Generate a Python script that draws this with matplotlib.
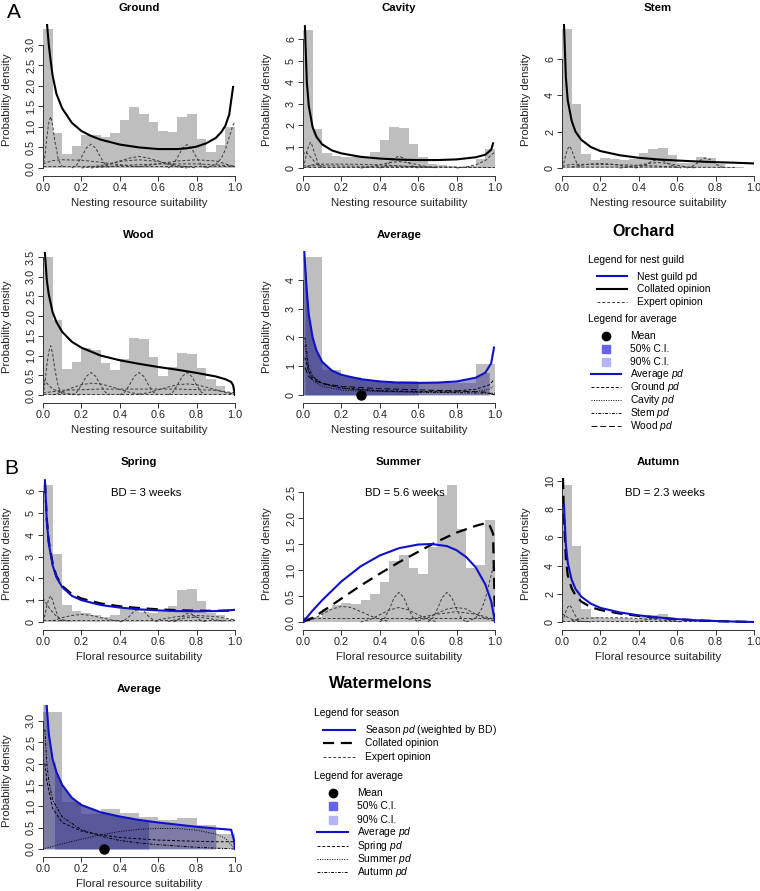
import numpy as np
import matplotlib
matplotlib.use('Agg')
import matplotlib.pyplot as plt
from matplotlib.lines import Line2D

plt.rcParams['font.family'] = ['Liberation Sans', 'DejaVu Sans']
plt.rcParams['mathtext.fontset'] = 'custom'
plt.rcParams['mathtext.rm'] = 'Liberation Sans'
plt.rcParams['mathtext.it'] = 'Liberation Sans:italic'

# ---------------- data ----------------
edges20 = np.linspace(0, 1, 21)
edges10 = np.linspace(0, 1, 11)

# Panel A: Orchard
ground_hist = [3.37, 0.85, 0.35, 0.53, 0.79, 0.79, 0.75, 0.85, 1.16, 1.48,
               1.32, 1.12, 0.91, 0.88, 1.23, 1.31, 0.71, 0.38, 0.55, 0.99]
ground_cx = [0.015, 0.02, 0.03, 0.04, 0.05, 0.07, 0.1, 0.15, 0.2, 0.25, 0.3, 0.4, 0.5,
             0.6, 0.7, 0.75, 0.8, 0.85, 0.9, 0.93, 0.95, 0.97, 0.99]
ground_cy = [4.2, 3.55, 3.0, 2.6, 2.25, 1.8, 1.45, 1.1, 0.9, 0.78, 0.69, 0.57, 0.5,
             0.46, 0.46, 0.48, 0.52, 0.6, 0.73, 0.88, 1.03, 1.3, 1.97]
ground_experts = [
    ([0, 0.01, 0.02, 0.03, 0.04, 0.05, 0.06, 0.08, 0.1], [0, 0.3, 0.75, 1.1, 1.25, 1.05, 0.7, 0.2, 0.03]),
    ([0.15, 0.175, 0.2, 0.225, 0.25, 0.275, 0.3, 0.325, 0.35], [0, 0.07, 0.26, 0.48, 0.58, 0.48, 0.26, 0.07, 0]),
    ([0.65, 0.675, 0.7, 0.725, 0.75, 0.775, 0.8, 0.825, 0.85], [0, 0.07, 0.25, 0.47, 0.57, 0.47, 0.25, 0.07, 0]),
    ([0.25, 0.3, 0.35, 0.4, 0.45, 0.5, 0.55, 0.6, 0.65, 0.7, 0.75], [0, 0.03, 0.09, 0.17, 0.24, 0.28, 0.24, 0.17, 0.09, 0.03, 0]),
    ([0.2, 0.3, 0.4, 0.5, 0.6, 0.7, 0.8], [0, 0.06, 0.16, 0.2, 0.16, 0.06, 0]),
    ([0.85, 0.9, 0.93, 0.95, 0.97, 0.99, 1.0], [0, 0.08, 0.25, 0.45, 0.75, 1.05, 1.12]),
    ([0, 0.05, 0.1, 0.2, 0.3, 0.4, 0.5], [0.1, 0.18, 0.2, 0.19, 0.14, 0.08, 0.03]),
    ([0.5, 0.6, 0.7, 0.8, 0.9, 0.95, 1.0], [0.03, 0.1, 0.17, 0.2, 0.17, 0.1, 0.03]),
    ([0, 0.5, 1.0], [0.04, 0.04, 0.04]),
    ([0.3, 0.4, 0.6, 0.8, 0.95, 1.0], [0.02, 0.06, 0.1, 0.1, 0.06, 0.04]),
]

cavity_hist = [6.4, 1.8, 0.7, 0.55, 0.5, 0.5, 0.5, 0.75, 1.28, 1.92,
               1.85, 1.12, 0.52, 0.2, 0.15, 0.1, 0.05, 0.1, 0.4, 0.88]
cavity_cx = [0.01, 0.02, 0.03, 0.05, 0.07, 0.1, 0.15, 0.2, 0.3, 0.4, 0.5, 0.6, 0.7, 0.8, 0.9, 0.95, 0.98, 0.99]
cavity_cy = [6.6, 4.0, 2.9, 1.9, 1.45, 1.1, 0.82, 0.68, 0.52, 0.44, 0.39, 0.37, 0.37, 0.4, 0.5, 0.62, 0.85, 1.15]
cavity_experts = [
    ([0, 0.01, 0.02, 0.03, 0.04, 0.05, 0.06, 0.08, 0.1], [0, 0.3, 0.75, 1.05, 1.2, 1.0, 0.7, 0.2, 0.03]),
    ([0, 0.01, 0.02, 0.04, 0.06, 0.08, 0.1], [0.6, 0.75, 0.7, 0.5, 0.3, 0.15, 0.05]),
    ([0.4, 0.425, 0.45, 0.475, 0.5, 0.525, 0.55, 0.575, 0.6], [0, 0.07, 0.24, 0.46, 0.55, 0.46, 0.24, 0.07, 0]),
    ([0.3, 0.35, 0.4, 0.45, 0.5, 0.55, 0.6, 0.65, 0.7], [0, 0.05, 0.15, 0.25, 0.3, 0.25, 0.15, 0.05, 0]),
    ([0.02, 0.05, 0.1, 0.2, 0.3, 0.4, 0.5, 0.6, 0.7], [0.05, 0.15, 0.18, 0.18, 0.17, 0.15, 0.1, 0.05, 0.02]),
    ([0.8, 0.85, 0.9, 0.95, 0.98, 1.0], [0, 0.05, 0.15, 0.35, 0.6, 0.75]),
    ([0, 0.5, 1.0], [0.05, 0.05, 0.05]),
    ([0, 0.1, 0.3, 0.5, 0.7, 0.9, 1.0], [0.1, 0.1, 0.08, 0.08, 0.05, 0.03, 0.02]),
]

stem_hist = [7.6, 3.5, 0.75, 0.45, 0.55, 0.5, 0.45, 0.5, 0.8, 1.05,
             1.1, 0.7, 0.3, 0.3, 0.6, 0.55, 0.2, 0.05, 0.05, 0.02]
stem_cx = [0.01, 0.02, 0.03, 0.05, 0.07, 0.1, 0.15, 0.2, 0.3, 0.4, 0.5, 0.6, 0.7, 0.8, 0.9, 1.0]
stem_cy = [8.0, 5.0, 3.7, 2.6, 2.0, 1.55, 1.15, 0.93, 0.7, 0.56, 0.47, 0.41, 0.36, 0.32, 0.29, 0.25]
stem_experts = [
    ([0, 0.01, 0.02, 0.03, 0.04, 0.05, 0.06, 0.08, 0.1], [0, 0.3, 0.75, 1.05, 1.2, 1.0, 0.7, 0.2, 0.03]),
    ([0.38, 0.41, 0.44, 0.47, 0.5, 0.53, 0.56, 0.59, 0.62], [0, 0.06, 0.2, 0.38, 0.45, 0.38, 0.2, 0.06, 0]),
    ([0.65, 0.675, 0.7, 0.725, 0.75, 0.775, 0.8, 0.825, 0.85], [0, 0.07, 0.24, 0.45, 0.55, 0.45, 0.24, 0.07, 0]),
    ([0.05, 0.1, 0.15, 0.2, 0.25, 0.3, 0.35, 0.4], [0.05, 0.15, 0.22, 0.25, 0.22, 0.15, 0.08, 0.02]),
    ([0.3, 0.35, 0.4, 0.45, 0.5, 0.55, 0.6, 0.65, 0.7], [0, 0.05, 0.15, 0.25, 0.3, 0.25, 0.15, 0.05, 0]),
    ([0, 0.5, 0.9], [0.05, 0.05, 0.03]),
    ([0, 0.05, 0.2, 0.4, 0.6], [0.1, 0.2, 0.2, 0.15, 0.05]),
]

wood_hist = [3.5, 1.9, 0.65, 0.83, 1.2, 1.13, 0.8, 0.63, 0.9, 1.44,
             1.42, 0.96, 0.49, 0.72, 1.07, 1.04, 0.68, 0.41, 0.23, 0.08]
wood_cx = [0.01, 0.02, 0.03, 0.05, 0.07, 0.1, 0.15, 0.2, 0.3, 0.4, 0.5, 0.6, 0.7, 0.8, 0.9, 0.95, 0.98, 0.99, 1.0]
wood_cy = [3.6, 2.9, 2.55, 2.1, 1.85, 1.6, 1.35, 1.2, 1.0, 0.88, 0.79, 0.71, 0.64, 0.56, 0.47, 0.4, 0.33, 0.25, 0.0]
wood_experts = [
    ([0, 0.01, 0.02, 0.03, 0.04, 0.05, 0.06, 0.08, 0.1], [0, 0.3, 0.75, 1.1, 1.25, 1.05, 0.7, 0.2, 0.03]),
    ([0.15, 0.175, 0.2, 0.225, 0.25, 0.275, 0.3, 0.325, 0.35], [0, 0.07, 0.25, 0.47, 0.57, 0.47, 0.25, 0.07, 0]),
    ([0.4, 0.425, 0.45, 0.475, 0.5, 0.525, 0.55, 0.575, 0.6], [0, 0.07, 0.25, 0.47, 0.57, 0.47, 0.25, 0.07, 0]),
    ([0.65, 0.675, 0.7, 0.725, 0.75, 0.775, 0.8, 0.825, 0.85], [0, 0.07, 0.25, 0.47, 0.57, 0.47, 0.25, 0.07, 0]),
    ([0.05, 0.1, 0.15, 0.2, 0.25, 0.3, 0.35, 0.4, 0.45, 0.5], [0, 0.08, 0.18, 0.26, 0.3, 0.28, 0.22, 0.14, 0.07, 0.02]),
    ([0.5, 0.55, 0.6, 0.65, 0.7, 0.75, 0.8, 0.85, 0.9, 0.95, 1.0], [0.02, 0.06, 0.13, 0.2, 0.26, 0.28, 0.26, 0.2, 0.13, 0.06, 0.02]),
    ([0, 0.02, 0.05, 0.1, 0.15, 0.2], [0.4, 0.3, 0.15, 0.06, 0.02, 0]),
    ([0, 0.1, 0.3, 0.5, 0.7, 0.9, 1.0], [0.05, 0.12, 0.15, 0.15, 0.15, 0.12, 0.05]),
    ([0, 0.5, 1.0], [0.03, 0.03, 0.03]),
]

orch_hist = [4.79, 0.87, 0.64, 0.52, 0.43, 0.49, 0.45, 0.4, 0.4, 1.08]
orch_cx = [0.005, 0.01, 0.02, 0.03, 0.05, 0.07, 0.1, 0.15, 0.2, 0.3, 0.4, 0.5, 0.6, 0.7, 0.8, 0.9, 0.95, 0.98, 0.995]
orch_cy = [5.2, 4.6, 3.6, 2.8, 2.0, 1.55, 1.15, 0.85, 0.7, 0.55, 0.47, 0.43, 0.42, 0.43, 0.47, 0.6, 0.78, 1.1, 1.65]
orch_ci90 = [0.0, 0.97]
orch_ci50 = [0.01, 0.6]
orch_mean = 0.3
orch_ground_x = [0.01, 0.03, 0.05, 0.1, 0.2, 0.4, 0.6, 0.8, 0.9, 0.97, 0.99]
orch_ground_y = [1.3, 0.8, 0.6, 0.4, 0.25, 0.15, 0.12, 0.14, 0.2, 0.35, 0.5]
orch_cavity_x = [0.01, 0.03, 0.05, 0.1, 0.2, 0.4, 0.6, 0.8, 0.9, 0.97, 0.99]
orch_cavity_y = [1.7, 0.8, 0.5, 0.3, 0.17, 0.12, 0.1, 0.1, 0.12, 0.2, 0.3]
orch_stem_x = [0.01, 0.03, 0.05, 0.1, 0.2, 0.4, 0.6, 0.8, 1.0]
orch_stem_y = [2.0, 0.95, 0.65, 0.4, 0.23, 0.14, 0.1, 0.08, 0.06]
orch_wood_x = [0.01, 0.03, 0.05, 0.1, 0.2, 0.4, 0.6, 0.8, 0.95, 1.0]
orch_wood_y = [0.95, 0.65, 0.53, 0.4, 0.3, 0.22, 0.18, 0.14, 0.1, 0.0]

# Panel B: Watermelons
spring_hist = [6.3, 3.1, 0.76, 0.5, 0.42, 0.32, 0.25, 0.3, 0.6, 0.6,
               0.45, 0.4, 0.45, 0.73, 1.47, 1.5, 0.97, 0.4, 0.3, 0.15]
spring_bx = [0.01, 0.02, 0.03, 0.05, 0.07, 0.1, 0.15, 0.2, 0.3, 0.4, 0.5, 0.6, 0.7, 0.8, 0.9, 0.95, 1.0]
spring_by = [6.5, 4.6, 3.6, 2.6, 2.05, 1.6, 1.2, 1.0, 0.78, 0.66, 0.58, 0.53, 0.5, 0.49, 0.5, 0.52, 0.56]
spring_kx = [0.01, 0.02, 0.03, 0.05, 0.07, 0.1, 0.15, 0.2, 0.3, 0.4, 0.5, 0.6, 0.7, 0.8, 0.9, 1.0]
spring_ky = [6.4, 4.7, 3.7, 2.7, 2.1, 1.65, 1.28, 1.08, 0.85, 0.72, 0.64, 0.58, 0.54, 0.52, 0.51, 0.53]
spring_experts = [
    ([0, 0.01, 0.02, 0.03, 0.04, 0.05, 0.06, 0.08, 0.1], [0, 0.3, 0.75, 1.05, 1.2, 1.0, 0.7, 0.2, 0.03]),
    ([0, 0.01, 0.02, 0.04, 0.06, 0.08, 0.1, 0.15], [1.1, 0.95, 0.8, 0.55, 0.35, 0.2, 0.1, 0.02]),
    ([0.4, 0.425, 0.45, 0.475, 0.5, 0.525, 0.55, 0.575, 0.6], [0, 0.08, 0.26, 0.5, 0.6, 0.5, 0.26, 0.08, 0]),
    ([0.68, 0.7, 0.72, 0.74, 0.76, 0.78, 0.8, 0.82, 0.85], [0, 0.08, 0.22, 0.36, 0.4, 0.34, 0.2, 0.08, 0]),
    ([0.05, 0.1, 0.15, 0.2, 0.25, 0.3, 0.35, 0.4], [0.05, 0.2, 0.3, 0.35, 0.3, 0.2, 0.1, 0.03]),
    ([0, 0.5, 1.0], [0.08, 0.08, 0.08]),
    ([0.6, 0.7, 0.8, 0.9, 1.0], [0.1, 0.25, 0.3, 0.25, 0.1]),
    ([0.65, 0.7, 0.75, 0.8, 0.85, 0.9, 0.95], [0.02, 0.12, 0.2, 0.22, 0.18, 0.1, 0.03]),
]

summer_hist = [0.09, 0.09, 0.25, 0.33, 0.37, 0.34, 0.42, 0.53, 0.77, 1.17,
               1.28, 1.03, 0.93, 1.45, 2.44, 2.63, 1.79, 1.03, 1.09, 1.97]
summer_bx = [0.0, 0.05, 0.1, 0.2, 0.3, 0.4, 0.5, 0.6, 0.67, 0.75, 0.8, 0.85, 0.9, 0.95, 0.98, 1.0]
summer_by = [0.0, 0.22, 0.42, 0.78, 1.07, 1.28, 1.42, 1.49, 1.5, 1.46, 1.38, 1.25, 1.05, 0.72, 0.4, 0.0]
summer_kx = [0.0, 0.05, 0.1, 0.2, 0.3, 0.4, 0.5, 0.6, 0.7, 0.8, 0.9, 0.95, 0.97, 0.99, 1.0]
summer_ky = [0.0, 0.08, 0.2, 0.45, 0.7, 0.93, 1.15, 1.35, 1.55, 1.72, 1.85, 1.9, 1.88, 1.7, 0.0]
summer_experts = [
    ([0, 0.05, 0.1, 0.15, 0.2, 0.25, 0.3, 0.35, 0.4, 0.45], [0, 0.05, 0.15, 0.25, 0.3, 0.28, 0.2, 0.12, 0.05, 0.01]),
    ([0.4, 0.425, 0.45, 0.475, 0.5, 0.525, 0.55, 0.575, 0.6], [0, 0.07, 0.25, 0.47, 0.57, 0.47, 0.25, 0.07, 0]),
    ([0.65, 0.675, 0.7, 0.725, 0.75, 0.775, 0.8, 0.825, 0.85], [0, 0.07, 0.25, 0.47, 0.57, 0.47, 0.25, 0.07, 0]),
    ([0.3, 0.35, 0.4, 0.45, 0.5, 0.55, 0.6, 0.65, 0.7], [0, 0.05, 0.14, 0.23, 0.28, 0.23, 0.14, 0.05, 0]),
    ([0.6, 0.65, 0.7, 0.75, 0.8, 0.85, 0.9, 0.95, 1.0], [0.02, 0.08, 0.17, 0.25, 0.28, 0.25, 0.15, 0.07, 0.02]),
    ([0.85, 0.9, 0.93, 0.95, 0.97, 0.99, 1.0], [0, 0.08, 0.25, 0.45, 0.75, 1.05, 1.12]),
    ([0, 0.5, 1.0], [0.08, 0.08, 0.08]),
    ([0.55, 0.7, 0.8, 0.9, 1.0], [0.05, 0.15, 0.2, 0.15, 0.05]),
]

autumn_hist = [9.7, 5.37, 0.95, 0.35, 0.3, 0.3, 0.25, 0.2, 0.35, 0.5,
               0.55, 0.25, 0.05, 0.05, 0.05, 0.05, 0.05, 0.04, 0.03, 0.02]
autumn_bx = [0.01, 0.02, 0.03, 0.05, 0.07, 0.1, 0.15, 0.2, 0.3, 0.4, 0.5, 0.6, 0.7, 0.8, 0.9, 1.0]
autumn_by = [8.3, 5.5, 4.2, 3.0, 2.35, 1.8, 1.3, 1.0, 0.68, 0.47, 0.32, 0.2, 0.12, 0.07, 0.03, 0.0]
autumn_kx = [0.005, 0.01, 0.02, 0.03, 0.05, 0.07, 0.1, 0.15, 0.2, 0.3, 0.4, 0.5, 0.6, 0.7, 0.8, 0.9, 1.0]
autumn_ky = [10.2, 7.5, 4.5, 3.3, 2.4, 1.9, 1.45, 1.05, 0.85, 0.6, 0.43, 0.3, 0.2, 0.12, 0.06, 0.03, 0.0]
autumn_experts = [
    ([0, 0.01, 0.02, 0.03, 0.04, 0.05, 0.06, 0.08, 0.1], [0, 0.3, 0.75, 1.05, 1.2, 1.0, 0.7, 0.2, 0.03]),
    ([0, 0.02, 0.05, 0.1, 0.15], [0.6, 0.4, 0.2, 0.05, 0]),
    ([0.05, 0.1, 0.2, 0.3, 0.4, 0.5, 0.6], [0.1, 0.25, 0.3, 0.3, 0.25, 0.15, 0.05]),
    ([0.38, 0.41, 0.44, 0.47, 0.5, 0.53, 0.56, 0.59, 0.62], [0, 0.05, 0.16, 0.3, 0.35, 0.3, 0.16, 0.05, 0]),
    ([0, 0.5, 1.0], [0.1, 0.1, 0.1]),
]

water_hist = [3.21, 1.1, 0.83, 0.94, 0.85, 0.76, 0.69, 0.72, 0.55, 0.35]
water_cx = [0.015, 0.02, 0.03, 0.05, 0.07, 0.1, 0.15, 0.2, 0.3, 0.4, 0.5, 0.6, 0.7, 0.8, 0.9, 0.98, 0.995, 1.0]
water_cy = [3.8, 3.3, 2.7, 2.1, 1.8, 1.5, 1.2, 1.03, 0.86, 0.76, 0.68, 0.62, 0.57, 0.52, 0.48, 0.45, 0.2, 0.0]
water_ci90 = [0.0, 0.9]
water_ci50 = [0.06, 0.55]
water_mean = 0.32
water_spring_x = [0.01, 0.02, 0.05, 0.1, 0.2, 0.3, 0.4, 0.5, 0.6, 0.8, 0.9, 1.0]
water_spring_y = [2.0, 1.6, 0.95, 0.62, 0.42, 0.33, 0.27, 0.24, 0.21, 0.18, 0.17, 0.17]
water_summer_x = [0.0, 0.1, 0.2, 0.3, 0.4, 0.5, 0.6, 0.7, 0.8, 0.9, 0.95, 1.0]
water_summer_y = [0.0, 0.12, 0.23, 0.33, 0.41, 0.46, 0.48, 0.48, 0.44, 0.35, 0.25, 0.0]
water_autumn_x = [0.01, 0.02, 0.03, 0.05, 0.1, 0.2, 0.3, 0.4, 0.5, 0.6, 0.8, 1.0]
water_autumn_y = [2.8, 2.0, 1.6, 1.15, 0.75, 0.45, 0.3, 0.2, 0.14, 0.1, 0.04, 0.0]

# ---------------- styling ----------------
W, H = 760, 891
GRAY = '#bebebe'
BLUE = '#1010c8'
EXP = dict(color='#3a3a3a', lw=0.7, ls=(0, (3, 2)))
CI_COL = '#2c2c8c'

fig = plt.figure(figsize=(W / 100, H / 100), dpi=100)


def fx(x):
    return x / W


def fy(y):
    return 1 - y / H


def make_axes(col_px, zero_px, ymax, yticks, ylabels, title, xlabel):
    bottom_px = zero_px + 8
    top_px = zero_px - 144
    ax = fig.add_axes([fx(col_px), fy(bottom_px), 192 / W, (bottom_px - top_px) / H])
    ax.set_xlim(0, 1)
    ax.set_ylim(-8 / 144 * ymax, ymax)
    for s in ['top', 'right']:
        ax.spines[s].set_visible(False)
    ax.spines['bottom'].set_bounds(0, 1)
    ax.spines['left'].set_bounds(yticks[0], yticks[-1])
    for s in ['bottom', 'left']:
        ax.spines[s].set_linewidth(0.7)
        ax.spines[s].set_color('#333333')
    ax.set_xticks([0, 0.2, 0.4, 0.6, 0.8, 1.0])
    ax.set_xticklabels(['0.0', '0.2', '0.4', '0.6', '0.8', '1.0'])
    ax.set_yticks(yticks)
    ax.set_yticklabels(ylabels, rotation=90, va='center')
    ax.tick_params(length=3.5, width=0.7, labelsize=7.8, pad=1.5, color='#333333', labelcolor='#222222')
    ax.text(0.5, 1 + 16 / 152, title, transform=ax.transAxes, ha='center', va='center',
            fontsize=8.2, fontweight='bold')
    ax.text(0.5, -27 / 152, xlabel, transform=ax.transAxes, ha='center', va='center', fontsize=8.2,
            color='#222222')
    ax.text(-36 / 192, 0.5, 'Probability density', transform=ax.transAxes, ha='center', va='center',
            fontsize=8.2, rotation=90, color='#222222')
    ax.patch.set_alpha(0)
    return ax


def hist(ax, edges, h):
    w = edges[1] - edges[0]
    ax.bar(edges[:-1], h, width=w, align='edge', color=GRAY, edgecolor='none', zorder=1)


def experts(ax, lst):
    for xs, ys in lst:
        ax.plot(xs, ys, zorder=3, **EXP)


NEST = 'Nesting resource suitability'
FLOR = 'Floral resource suitability'
COLS = [43, 303, 562]
ZERO = [168, 395, 622, 849]

# Row 1
ax = make_axes(COLS[0], ZERO[0], 3.5, [0, 0.5, 1, 1.5, 2, 2.5, 3], ['0.0', '0.5', '1.0', '1.5', '2.0', '2.5', '3.0'], 'Ground', NEST)
hist(ax, edges20, ground_hist); experts(ax, ground_experts)
ax.plot(ground_cx, ground_cy, color='black', lw=1.5, zorder=4)

ax = make_axes(COLS[1], ZERO[0], 6.7, [0, 1, 2, 3, 4, 5, 6], ['0', '1', '2', '3', '4', '5', '6'], 'Cavity', NEST)
hist(ax, edges20, cavity_hist); experts(ax, cavity_experts)
ax.plot(cavity_cx, cavity_cy, color='black', lw=1.5, zorder=4)

ax = make_axes(COLS[2], ZERO[0], 7.9, [0, 2, 4, 6], ['0', '2', '4', '6'], 'Stem', NEST)
hist(ax, edges20, stem_hist); experts(ax, stem_experts)
ax.plot(stem_cx, stem_cy, color='black', lw=1.5, zorder=4)

# Row 2
ax = make_axes(COLS[0], ZERO[1], 3.65, [0, 0.5, 1, 1.5, 2, 2.5, 3, 3.5], ['0.0', '0.5', '1.0', '1.5', '2.0', '2.5', '3.0', '3.5'], 'Wood', NEST)
hist(ax, edges20, wood_hist); experts(ax, wood_experts)
ax.plot(wood_cx, wood_cy, color='black', lw=1.5, zorder=4)

ax = make_axes(COLS[1], ZERO[1], 5.0, [0, 1, 2, 3, 4], ['0', '1', '2', '3', '4'], 'Average', NEST)
hist(ax, edges10, orch_hist)
ox = np.array(orch_cx); oy = np.array(orch_cy)
m90 = (ox >= orch_ci90[0]) & (ox <= orch_ci90[1])
ax.fill_between(np.r_[orch_ci90[0], ox[m90], orch_ci90[1]], 0, np.r_[oy[m90][0], oy[m90], oy[m90][-1]],
                color=CI_COL, alpha=0.45, lw=0, zorder=2)
m50 = (ox >= orch_ci50[0]) & (ox <= orch_ci50[1])
ax.fill_between(ox[m50], 0, oy[m50], color=CI_COL, alpha=0.45, lw=0, zorder=2)
ax.plot(orch_ground_x, orch_ground_y, color='black', lw=0.7, ls=(0, (3, 2)), zorder=3)
ax.plot(orch_cavity_x, orch_cavity_y, color='black', lw=0.7, ls=(0, (1, 1.5)), zorder=3)
ax.plot(orch_stem_x, orch_stem_y, color='black', lw=0.7, ls=(0, (3, 1.5, 1, 1.5)), zorder=3)
ax.plot(orch_wood_x, orch_wood_y, color='black', lw=0.7, ls=(0, (6, 3)), zorder=3)
ax.plot(orch_cx, orch_cy, color=BLUE, lw=1.5, zorder=4)
ax.plot([orch_mean], [0], 'o', color='black', ms=6.5, clip_on=False, zorder=5)

# Row 3
ax = make_axes(COLS[0], ZERO[2], 6.6, [0, 1, 2, 3, 4, 5, 6], ['0', '1', '2', '3', '4', '5', '6'], 'Spring', FLOR)
hist(ax, edges20, spring_hist); experts(ax, spring_experts)
ax.plot(spring_kx, spring_ky, color='black', lw=1.6, ls=(0, (5, 3)), zorder=4)
ax.plot(spring_bx, spring_by, color=BLUE, lw=1.5, zorder=4)
fig.text(fx(146), fy(493), 'BD = 3 weeks', ha='center', va='center', fontsize=8.2)

ax = make_axes(COLS[1], ZERO[2], 2.77, [0, 0.5, 1, 1.5, 2, 2.5], ['0.0', '0.5', '1.0', '1.5', '2.0', '2.5'], 'Summer', FLOR)
hist(ax, edges20, summer_hist); experts(ax, summer_experts)
ax.plot(summer_kx, summer_ky, color='black', lw=1.6, ls=(0, (5, 3)), zorder=4)
ax.plot(summer_bx, summer_by, color=BLUE, lw=1.5, zorder=4)
fig.text(fx(405), fy(493), 'BD = 5.6 weeks', ha='center', va='center', fontsize=8.2)

ax = make_axes(COLS[2], ZERO[2], 10.2, [0, 2, 4, 6, 8, 10], ['0', '2', '4', '6', '8', '10'], 'Autumn', FLOR)
hist(ax, edges20, autumn_hist); experts(ax, autumn_experts)
ax.plot(autumn_kx, autumn_ky, color='black', lw=1.6, ls=(0, (5, 3)), zorder=4)
ax.plot(autumn_bx, autumn_by, color=BLUE, lw=1.5, zorder=4)
fig.text(fx(665), fy(493), 'BD = 2.3 weeks', ha='center', va='center', fontsize=8.2)

# Row 4
ax = make_axes(COLS[0], ZERO[3], 3.37, [0, 0.5, 1, 1.5, 2, 2.5, 3], ['0.0', '0.5', '1.0', '1.5', '2.0', '2.5', '3.0'], 'Average', FLOR)
hist(ax, edges10, water_hist)
wx = np.array(water_cx); wy = np.array(water_cy)
m90 = (wx >= water_ci90[0]) & (wx <= water_ci90[1])
ax.fill_between(np.r_[water_ci90[0], wx[m90], water_ci90[1]], 0, np.r_[wy[m90][0], wy[m90], wy[m90][-1]],
                color=CI_COL, alpha=0.45, lw=0, zorder=2)
m50 = (wx >= water_ci50[0]) & (wx <= water_ci50[1])
ax.fill_between(np.r_[water_ci50[0], wx[m50], water_ci50[1]], 0, np.r_[2.1, wy[m50], 0.66],
                color=CI_COL, alpha=0.45, lw=0, zorder=2)
ax.plot(water_spring_x, water_spring_y, color='black', lw=0.7, ls=(0, (3, 2)), zorder=3)
ax.plot(water_summer_x, water_summer_y, color='black', lw=0.7, ls=(0, (1, 1.5)), zorder=3)
ax.plot(water_autumn_x, water_autumn_y, color='black', lw=0.7, ls=(0, (3, 1.5, 1, 1.5)), zorder=3)
ax.plot(water_cx, water_cy, color=BLUE, lw=1.5, zorder=4)
ax.plot([water_mean], [0], 'o', color='black', ms=6.5, clip_on=False, zorder=5)

# Panel letters
fig.text(fx(14), fy(13), 'A', ha='center', va='center', fontsize=15)
fig.text(fx(11), fy(468), 'B', ha='center', va='center', fontsize=15)


# ---------------- legends ----------------
def legline(x0, x1, y, **kw):
    fig.add_artist(Line2D([fx(x0), fx(x1)], [fy(y), fy(y)], transform=fig.transFigure, **kw))


def legmark(x, y, **kw):
    fig.add_artist(Line2D([fx(x)], [fy(y)], transform=fig.transFigure, ls='none', **kw))


def legtext(x, y, s, size=7.4):
    fig.text(fx(x), fy(y), s, ha='left', va='center', fontsize=size)


# Orchard
fig.text(fx(644), fy(231), 'Orchard', ha='center', va='center', fontsize=11.5, fontweight='bold')
legtext(588, 260, 'Legend for nest guild')
legline(597, 627, 276, color=BLUE, lw=1.5); legtext(637, 277, 'Nest guild pd')
legline(597, 627, 289, color='black', lw=1.5); legtext(637, 289, 'Collated opinion')
legline(597, 627, 302, **EXP); legtext(637, 302, 'Expert opinion')
legtext(588, 319, 'Legend for average')
legmark(606, 336, marker='o', ms=6, color='black'); legtext(630, 336, 'Mean')
legmark(606, 349, marker='s', ms=6, color='#6464f0'); legtext(630, 349, '50% C.I.')
legmark(606, 362, marker='s', ms=6, color='#b4b4f8'); legtext(630, 362, '90% C.I.')
legline(591, 621, 374, color=BLUE, lw=1.5); legtext(630, 374, r'Average $\mathit{pd}$')
legline(591, 621, 387, color='black', lw=0.7, ls=(0, (3, 2))); legtext(630, 387, r'Ground $\mathit{pd}$')
legline(591, 621, 400, color='black', lw=0.7, ls=(0, (1, 1.5))); legtext(630, 400, r'Cavity $\mathit{pd}$')
legline(591, 621, 413, color='black', lw=0.7, ls=(0, (3, 1.5, 1, 1.5))); legtext(630, 413, r'Stem $\mathit{pd}$')
legline(591, 621, 426, color='black', lw=0.7, ls=(0, (6, 3))); legtext(630, 426, r'Wood $\mathit{pd}$')

# Watermelons
fig.text(fx(381), fy(683), 'Watermelons', ha='center', va='center', fontsize=12, fontweight='bold')
legtext(314, 713, 'Legend for season')
legline(323, 355, 730, color=BLUE, lw=1.5); legtext(365, 730, r'Season $\mathit{pd}$ (weighted by BD)')
legline(323, 355, 743, color='black', lw=1.6, ls=(0, (5, 3))); legtext(365, 743, 'Collated opinion')
legline(323, 355, 757, **EXP); legtext(365, 757, 'Expert opinion')
legtext(314, 776, 'Legend for average')
legmark(333, 793, marker='o', ms=6, color='black'); legtext(357, 793, 'Mean')
legmark(333, 806, marker='s', ms=6, color='#6464f0'); legtext(357, 806, '50% C.I.')
legmark(333, 820, marker='s', ms=6, color='#b4b4f8'); legtext(357, 820, '90% C.I.')
legline(317, 348, 832, color=BLUE, lw=1.5); legtext(357, 832, r'Average $\mathit{pd}$')
legline(317, 348, 846, color='black', lw=0.7, ls=(0, (3, 2))); legtext(357, 846, r'Spring $\mathit{pd}$')
legline(317, 348, 859, color='black', lw=0.7, ls=(0, (1, 1.5))); legtext(357, 859, r'Summer $\mathit{pd}$')
legline(317, 348, 872, color='black', lw=0.7, ls=(0, (3, 1.5, 1, 1.5))); legtext(357, 872, r'Autumn $\mathit{pd}$')

fig.savefig('out.png', dpi=100)
